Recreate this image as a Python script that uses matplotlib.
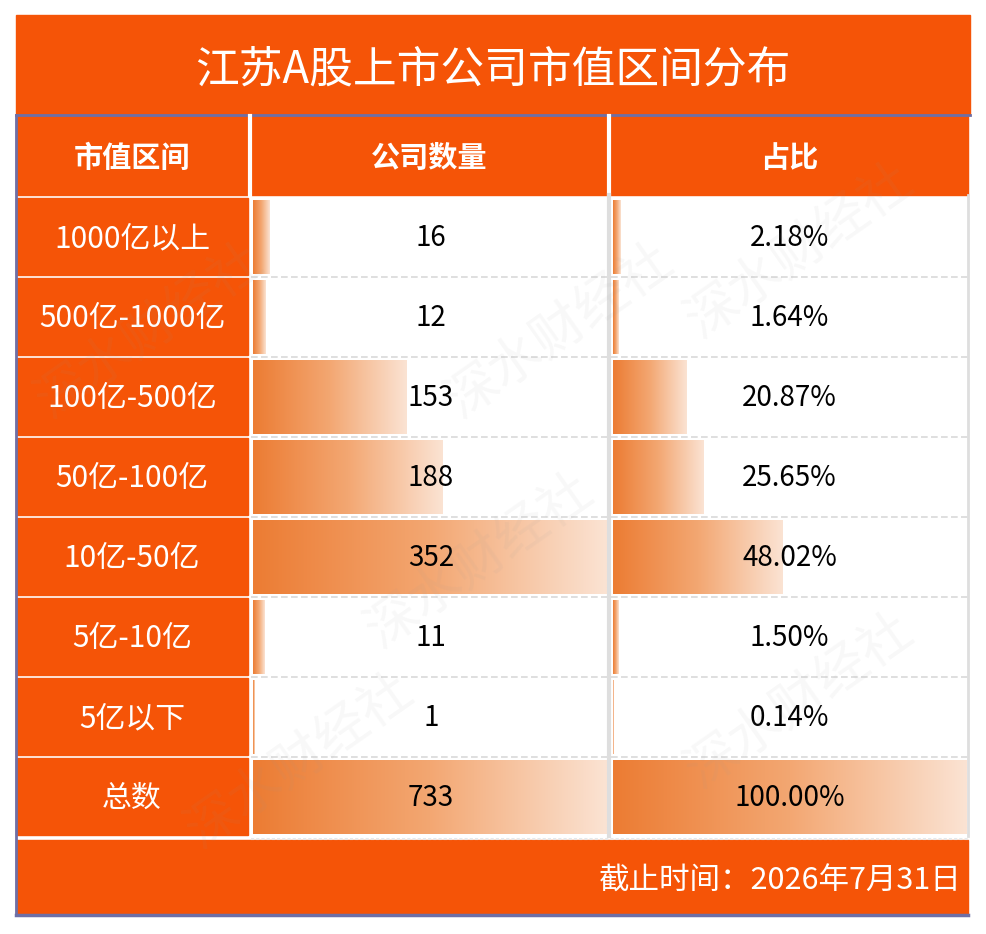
import numpy as np
import matplotlib
matplotlib.use("Agg")
import matplotlib.pyplot as plt
from matplotlib.colors import LinearSegmentedColormap
from matplotlib.patches import Rectangle

plt.rcParams['font.family'] = ['Noto Sans CJK SC', 'DejaVu Sans']

# ---- data ----
title = "江苏A股上市公司市值区间分布"
headers = ["市值区间", "公司数量", "占比"]
categories = ["1000亿以上", "500亿-1000亿", "100亿-500亿", "50亿-100亿",
              "10亿-50亿", "5亿-10亿", "5亿以下", "总数"]
counts = [16, 12, 153, 188, 352, 11, 1, 733]
shares = [2.18, 1.64, 20.87, 25.65, 48.02, 1.50, 0.14, 100.00]
footer = "截止时间：2026年7月31日"

# ---- style ----
ORANGE = "#F55407"
BORDER = "#6E6FA6"
GRID = "#D9D9D9"
cmap = LinearSegmentedColormap.from_list("bar", ["#EC7C33", "#F3A772", "#FBE3D3"])

W, H = 986, 934
fig = plt.figure(figsize=(W / 100, H / 100), dpi=100)
ax = fig.add_axes([0, 0, 1, 1])
ax.set_axis_off()
fig.patch.set_facecolor("white")

# layout (pixel units)
L, R = 16, 968
title_top, title_bot = 15, 115
head_top, head_bot = 115, 195
row_top0, row_h = 198, 80
col1 = (16, 248)
col2 = (251, 607)
col3 = (611, 968)
bar2 = (253, 607)
bar3 = (613, 967)
n = len(categories)
table_bot = row_top0 + n * row_h - 2
foot_top, foot_bot = table_bot + 4, 915

# faint watermark
for (x, y) in [(150, 330), (560, 330), (800, 250), (300, 760), (800, 700), (480, 560)]:
    ax.text(x, y, "深水财经社", color="#9A9A9A", alpha=0.07, fontsize=38,
            rotation=35, ha="center", va="center", zorder=6)

# title bar
ax.add_patch(Rectangle((L, title_top), 970 - L, title_bot - title_top, color=ORANGE, zorder=1))
ax.text((L + 970) / 2, (title_top + title_bot) / 2 + 4, title, color="white",
        fontsize=31.5, ha="center", va="center", zorder=5)

# header row
ax.add_patch(Rectangle((L, head_top), R - L, head_bot - head_top, color=ORANGE, zorder=1))
for (a, b), h in zip([col1, col2, col3], headers):
    ax.text((a + b) / 2, (head_top + head_bot) / 2 + 3, h, color="white", fontsize=21,
            fontweight="bold", ha="center", va="center", zorder=5)
ax.plot([L, 970], [head_top, head_top], color=BORDER, lw=2, zorder=3)

# vertical separators in header
for x in [249.5, 609]:
    ax.plot([x, x], [head_top + 1, head_bot], color="white", lw=3, zorder=3)

# data rows
count_max = max(counts[:-1])
for i, (cat, c, s) in enumerate(zip(categories, counts, shares)):
    top = row_top0 + i * row_h
    bot = top + row_h - 3
    cy = (top + bot) / 2 + 2
    # category cell
    ax.add_patch(Rectangle((col1[0], top), col1[1] - col1[0], bot - top, color=ORANGE, zorder=1))
    ax.text((col1[0] + col1[1]) / 2, cy, cat, color="white", fontsize=21.5,
            ha="center", va="center", zorder=5)
    # bars
    for (bx0, bx1), frac in [(bar2, min(c / count_max, 1.0)), (bar3, min(s / 100.0, 1.0))]:
        w = frac * (bx1 - bx0)
        if w > 0:
            grad = np.linspace(0, 1, 256).reshape(1, -1)
            ax.imshow(grad, extent=[bx0, bx0 + w, bot - 1, top + 2], cmap=cmap,
                      aspect="auto", interpolation="bilinear", zorder=2)
    ax.text((col2[0] + col2[1]) / 2 + 2, cy, f"{c}", color="black", fontsize=20,
            ha="center", va="center", zorder=5)
    ax.text((col3[0] + col3[1]) / 2, cy, f"{s:.2f}%", color="black", fontsize=20,
            ha="center", va="center", zorder=5)
    # dashed row separator
    if i < n - 1:
        ax.plot([col2[0], R], [bot + 1.5, bot + 1.5], color=GRID, lw=1.2,
                ls=(0, (4, 2)), zorder=3)

# vertical grey lines between col2/col3 and right edge
ax.plot([609, 609], [head_bot, table_bot], color="#DEDEDE", lw=3, zorder=3)
ax.plot([968, 968], [head_bot, table_bot], color="#DEDEDE", lw=2, zorder=3)

# footer
ax.add_patch(Rectangle((L, foot_top), R - L, foot_bot - foot_top, color=ORANGE, zorder=1))
ax.text(R - 6, (foot_top + foot_bot) / 2 + 4, footer, color="white", fontsize=22,
        ha="right", va="center", zorder=5)
ax.plot([L, R], [foot_bot, foot_bot], color=BORDER, lw=2.5, zorder=3)
ax.plot([col2[0], R], [foot_top - 1.5, foot_top - 1.5], color="#E8E8E8", lw=1.5,
        ls=(0, (1.5, 1)), zorder=3)

# left border
ax.plot([L, L], [head_top, foot_bot], color=BORDER, lw=2, zorder=3)

ax.set_xlim(0, W)
ax.set_ylim(H, 0)
fig.savefig("out.png", dpi=100, facecolor="white")
